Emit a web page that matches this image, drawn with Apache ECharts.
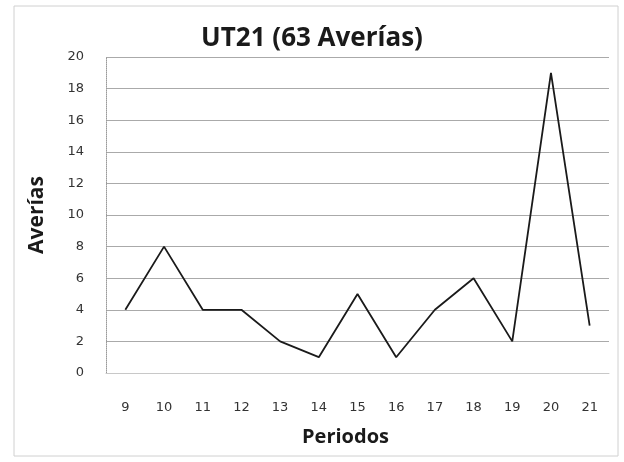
<!DOCTYPE html>
<html>
<head>
<meta charset="utf-8">
<script src="https://cdn.jsdelivr.net/npm/echarts@6/dist/echarts.min.js"></script>
<style>
  html, body { margin: 0; padding: 0; background: #fff; }
  #chart { width: 624px; height: 462px; }
</style>
</head>
<body>
<div id="chart"></div>
<script>
// datos
const periodos = ['9', '10', '11', '12', '13', '14', '15', '16', '17', '18', '19', '20', '21']
const averias = [4, 8, 4, 4, 2, 1, 5, 1, 4, 6, 2, 19, 3]
const titulo = 'UT21 (63 Averías)'

const chart = echarts.init(document.getElementById('chart'))

const option = {
  animation: false,
  title: {
    text: titulo,
    left: 'center',
    top: 21,
    textStyle: {
      fontFamily: 'Open Sans',
      fontWeight: 'bold',
      fontSize: 26,
      color: '#1a1a1a'
    }
  },
  graphic: [{
    type: 'rect',
    shape: { x: 14, y: 6, width: 604, height: 450 },
    style: { fill: 'none', stroke: '#d0d0d0', lineWidth: 1 },
    silent: true
  }],
  grid: {
    left: 106,
    right: 15,
    top: 57,
    bottom: 89
  },
  xAxis: {
    type: 'category',
    data: periodos,
    boundaryGap: true,
    name: 'Periodos',
    nameLocation: 'middle',
    nameGap: 54,
    nameTextStyle: {
      fontFamily: 'Open Sans',
      fontWeight: 'bold',
      fontSize: 20,
      color: '#1a1a1a',
      padding: [0, 24, 0, 0]
    },
    axisLine: { show: true, lineStyle: { color: '#c8c8c8' } },
    axisTick: { show: false },
    axisLabel: {
      margin: 28,
      fontFamily: 'DejaVu Sans',
      fontSize: 13,
      color: '#333'
    }
  },
  yAxis: {
    type: 'value',
    min: 0,
    max: 20,
    interval: 2,
    name: 'Averías',
    nameLocation: 'middle',
    nameGap: 58,
    nameTextStyle: {
      fontFamily: 'Open Sans',
      fontWeight: 'bold',
      fontSize: 21,
      color: '#1a1a1a'
    },
    axisLine: { show: true, lineStyle: { color: '#999', type: 'dotted' } },
    axisTick: { show: false },
    axisLabel: {
      margin: 22,
      fontFamily: 'DejaVu Sans',
      fontSize: 13,
      color: '#333'
    },
    splitLine: { lineStyle: { color: '#aaaaaa', width: 1 } }
  },
  series: [{
    type: 'line',
    data: averias,
    showSymbol: false,
    lineStyle: { color: '#1a1a1a', width: 1.8 }
  }]
}

chart.setOption(option)
</script>
</body>
</html>
